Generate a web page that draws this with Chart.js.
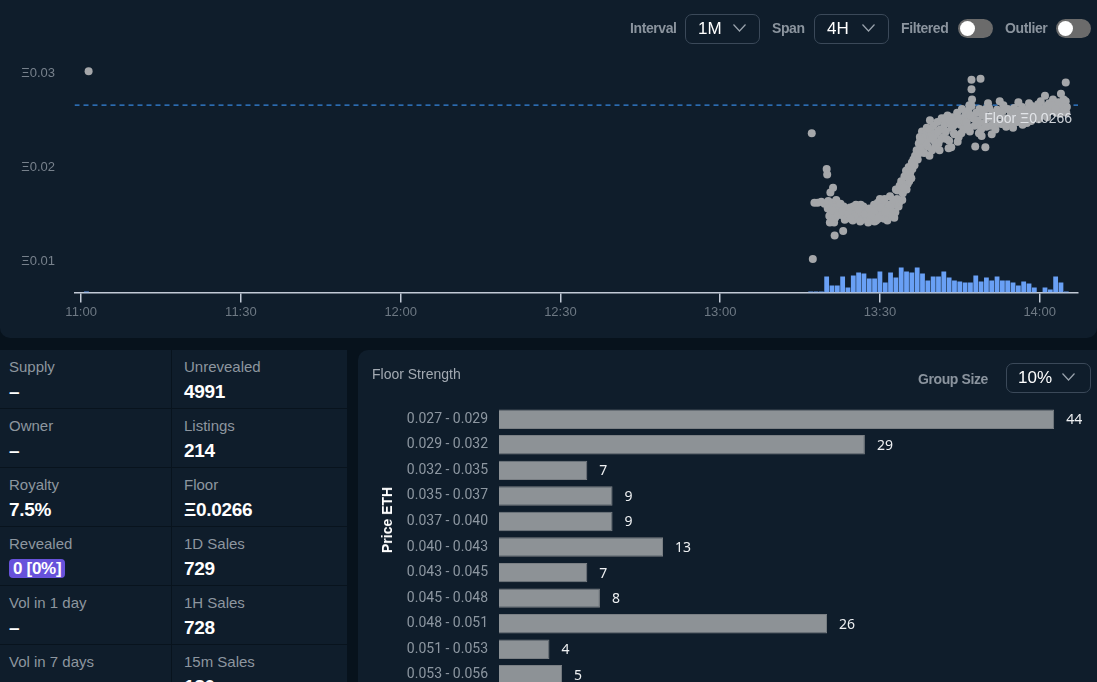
<!DOCTYPE html>
<html lang="en">
<head>
<meta charset="UTF-8">
<title>Sales</title>
<script src="https://cdn.jsdelivr.net/npm/chart.js"></script>
<style>
    body {
        margin: 0;
        width: 1097px;
        height: 682px;
        overflow: hidden;
        position: relative;
        background: #07121c;
        font-family: "Liberation Sans", Arial, sans-serif;
    }
    .panel { position: absolute; background: #0f1d2b; }
    #top { left: 0; top: 0; width: 1097px; height: 338px; border-radius: 0 0 10px 10px; }
    #right { left: 358px; top: 350px; width: 739px; height: 340px; border-top-left-radius: 10px; overflow: hidden; }
    .abs { position: absolute; }
    .ctl { position: absolute; font-weight: bold; font-size: 14px; color: #8b949e; letter-spacing: -0.4px; line-height: 16px; }
    .box { position: absolute; border: 1px solid #3b4959; border-radius: 7px; height: 28px; box-sizing: border-box; }
    .box span { position: absolute; top: 4px; font-size: 17px; color: #fff; line-height: 20px; }
    .box svg { position: absolute; top: 9px; }
    .toggle { position: absolute; width: 35px; height: 19px; border-radius: 10px; background: #6b6b6b; }
    .toggle::after { content: ""; position: absolute; left: 2px; top: 2px; width: 15px; height: 15px; border-radius: 50%; background: #fff; }
    #stats {
        position: absolute; left: 0; top: 350px; width: 347px; height: 340px;
        background: #08131d; display: grid; grid-template-columns: 171px 175px;
        grid-auto-rows: 58px; gap: 1px;
    }
    .cell { background: #0f1d2b; position: relative; }
    .cell .lbl { position: absolute; top: 8px; font-size: 15px; color: #8d969f; line-height: 18px; }
    .cell .val { position: absolute; top: 31px; font-size: 19px; font-weight: bold; color: #fff; line-height: 22px; letter-spacing: -0.3px; }
    .c1 .lbl, .c1 .val { left: 9px; }
    .c2 .lbl, .c2 .val { left: 12px; }
    .badge { background: #6752db; border-radius: 4px; padding: 0 4px; font-size: 17px !important; line-height: 19px !important; top: 32px !important; }
</style>
</head>
<body>
    <div class="panel" id="top"></div>
    <div class="abs" style="left:0;top:0;width:1097px;height:338px;">
        <canvas id="salesChart"></canvas>
    </div>

    <div class="ctl" style="left:630px;top:20px;">Interval</div>
    <div class="box" style="left:685px;top:14px;width:75px;height:30px;">
        <span style="left:12px;">1M</span>
        <svg style="left:47px;" width="13" height="8" viewBox="0 0 13 8"><polyline points="0.5,0.5 6.5,7 12.5,0.5" fill="none" stroke="#9aa3ad" stroke-width="1.2"/></svg>
    </div>
    <div class="ctl" style="left:772px;top:20px;">Span</div>
    <div class="box" style="left:814px;top:14px;width:75px;height:30px;">
        <span style="left:12px;">4H</span>
        <svg style="left:47px;" width="13" height="8" viewBox="0 0 13 8"><polyline points="0.5,0.5 6.5,7 12.5,0.5" fill="none" stroke="#9aa3ad" stroke-width="1.2"/></svg>
    </div>
    <div class="ctl" style="left:901px;top:20px;">Filtered</div>
    <div class="toggle" style="left:958px;top:19px;"></div>
    <div class="ctl" style="left:1005px;top:20px;">Outlier</div>
    <div class="toggle" style="left:1056px;top:19px;"></div>

    <div id="stats">
        <div class="cell c1"><div class="lbl">Supply</div><div class="val">–</div></div>
        <div class="cell c2"><div class="lbl">Unrevealed</div><div class="val">4991</div></div>
        <div class="cell c1"><div class="lbl">Owner</div><div class="val">–</div></div>
        <div class="cell c2"><div class="lbl">Listings</div><div class="val">214</div></div>
        <div class="cell c1"><div class="lbl">Royalty</div><div class="val">7.5%</div></div>
        <div class="cell c2"><div class="lbl">Floor</div><div class="val">Ξ0.0266</div></div>
        <div class="cell c1"><div class="lbl">Revealed</div><div class="val badge">0 [0%]</div></div>
        <div class="cell c2"><div class="lbl">1D Sales</div><div class="val">729</div></div>
        <div class="cell c1"><div class="lbl">Vol in 1 day</div><div class="val">–</div></div>
        <div class="cell c2"><div class="lbl">1H Sales</div><div class="val">728</div></div>
        <div class="cell c1"><div class="lbl">Vol in 7 days</div><div class="val"></div></div>
        <div class="cell c2"><div class="lbl">15m Sales</div><div class="val">180</div></div>
    </div>

    <div class="panel" id="right">
        <div class="abs" style="left:0;top:0;width:739px;height:357px;">
            <canvas id="floorChart"></canvas>
        </div>
        <div class="abs" style="left:14px;top:16px;font-size:14px;color:#a3aab2;line-height:16px;">Floor Strength</div>
        <div class="ctl" style="left:560px;top:21px;">Group Size</div>
        <div class="box" style="left:648px;top:13px;width:85px;height:30px;">
            <span style="left:11px;">10%</span>
            <svg style="left:55px;" width="13" height="8" viewBox="0 0 13 8"><polyline points="0.5,0.5 6.5,7 12.5,0.5" fill="none" stroke="#9aa3ad" stroke-width="1.2"/></svg>
        </div>
    </div>
    <div class="abs" style="left:387px;top:520px;transform:translate(-50%,-50%) rotate(-90deg);font-weight:bold;font-size:14px;color:#fff;white-space:nowrap;">Price ETH</div>

<script>
    // sales: [minutes after 11:00, price in ETH]
    const salesEarly = [
        [1.4, 0.0302], [137.2, 0.0236], [137.4, 0.0102], [140.0, 0.0198], [140.1, 0.0192],
        [141.5, 0.0127], [143.1, 0.0132], [140.6, 0.0141], [141.4, 0.0141], [141.2, 0.0178], [140.7, 0.0173]
    ];
    const salesDip = [
        [137.7, 0.0162], [138.3, 0.0162], [139.0, 0.0163], [139.6, 0.0161], [140.3, 0.0164], [141.0, 0.0162], [141.8, 0.0165], [142.3, 0.0160],
        [140.2, 0.0156], [140.8, 0.0152], [141.3, 0.0157], [141.9, 0.0151], [140.5, 0.0148], [141.6, 0.0146],
        [142.4, 0.0155], [142.8, 0.0149], [143.2, 0.0158], [143.6, 0.0152], [143.9, 0.0146], [142.6, 0.0161], [143.4, 0.0144],
        [144.2, 0.0154], [144.6, 0.0148], [145.0, 0.0158], [145.4, 0.0151], [145.8, 0.0145], [144.9, 0.0143], [145.5, 0.0160],
        [146.2, 0.0150], [146.6, 0.0144], [147.0, 0.0155], [147.4, 0.0147], [147.8, 0.0141], [146.9, 0.0158], [147.6, 0.0152],
        [148.2, 0.0145], [148.6, 0.0152], [149.0, 0.0142], [149.4, 0.0157], [149.8, 0.0148], [148.9, 0.0160], [150.0, 0.0166], [149.3, 0.0143],
        [150.4, 0.0151], [150.8, 0.0145], [151.2, 0.0158], [151.6, 0.0149], [150.6, 0.0163], [151.9, 0.0169], [151.4, 0.0143], [152.0, 0.0155],
        [152.3, 0.0148], [152.6, 0.0160], [152.9, 0.0152], [153.2, 0.0166], [153.5, 0.0158], [153.0, 0.0176], [152.7, 0.0146],
        [141.1, 0.0154], [142.1, 0.0149], [143.0, 0.0153], [144.0, 0.0150], [144.4, 0.0157], [145.2, 0.0147], [146.0, 0.0155],
        [146.4, 0.0160], [147.2, 0.0150], [148.0, 0.0156], [148.4, 0.0149], [149.1, 0.0154], [149.6, 0.0162], [150.2, 0.0157],
        [151.0, 0.0153], [151.8, 0.0160], [150.9, 0.0166], [149.7, 0.0145], [146.3, 0.0142], [144.5, 0.0145]
    ];
    const salesClimb = [
        [152.5, 0.0165], [153.3, 0.0175], [153.7, 0.0180], [154.0, 0.0185], [153.6, 0.0162], [154.3, 0.0172], [154.6, 0.0190],
        [154.9, 0.0196], [155.2, 0.0182], [155.4, 0.0200], [155.7, 0.0194], [156.0, 0.0205], [156.3, 0.0208], [156.1, 0.0198],
        [156.6, 0.0212], [156.9, 0.0218], [157.1, 0.0208], [157.3, 0.0225], [157.5, 0.0232], [157.7, 0.0220], [157.9, 0.0238],
        [158.1, 0.0228], [158.3, 0.0215], [158.5, 0.0235], [158.8, 0.0242], [155.0, 0.0176], [154.2, 0.0165],
        [159.0, 0.0222], [159.2, 0.0230], [159.4, 0.0250], [159.6, 0.0238], [159.8, 0.0218], [160.0, 0.0244], [160.2, 0.0228], [159.3, 0.0212],
        [160.5, 0.0235], [160.8, 0.0248], [161.0, 0.0225], [161.3, 0.0240], [161.6, 0.0252], [161.9, 0.0232], [161.2, 0.0218], [162.1, 0.0245],
        [162.4, 0.0238], [162.7, 0.0255], [163.0, 0.0228], [163.3, 0.0246], [163.6, 0.0253], [163.9, 0.0236], [162.9, 0.0220], [163.5, 0.0242],
        [164.2, 0.0250], [164.5, 0.0258], [164.8, 0.0232], [165.1, 0.0245], [165.4, 0.0262], [165.7, 0.0240], [166.0, 0.0255], [164.6, 0.0227], [163.4, 0.0221],
        [158.0, 0.0232], [158.6, 0.0226], [159.1, 0.0241], [159.9, 0.0232], [160.4, 0.0222], [160.9, 0.0238], [161.5, 0.0230],
        [162.2, 0.0252], [162.5, 0.0230], [163.1, 0.0250], [163.8, 0.0244], [164.0, 0.0235], [164.9, 0.0252], [165.3, 0.0236],
        [165.9, 0.0248], [155.9, 0.0188], [156.5, 0.0202], [157.2, 0.0214], [157.6, 0.0229], [155.5, 0.0185], [154.5, 0.0178]
    ];
    const salesPlateau = [
        [166.3, 0.0248], [166.6, 0.0260], [166.9, 0.0238], [167.2, 0.0265], [167.5, 0.0252], [167.8, 0.0244], [168.1, 0.0258], [167.9, 0.0222],
        [167.2, 0.0293], [167.2, 0.0283], [167.3, 0.0272], [168.9, 0.0294],
        [168.4, 0.0250], [168.7, 0.0262], [169.0, 0.0240], [169.3, 0.0255], [169.6, 0.0247], [169.8, 0.0221], [169.9, 0.0262], [168.6, 0.0236],
        [170.2, 0.0252], [170.5, 0.0263], [170.8, 0.0244], [171.1, 0.0258], [171.4, 0.0250], [171.7, 0.0240], [172.0, 0.0261], [171.0, 0.0235],
        [172.3, 0.0255], [172.5, 0.0270], [172.8, 0.0246], [173.1, 0.0260], [173.4, 0.0252], [173.7, 0.0243], [174.0, 0.0262], [173.2, 0.0266],
        [174.3, 0.0250], [174.6, 0.0258], [174.9, 0.0246], [175.2, 0.0263], [175.5, 0.0254], [175.8, 0.0248], [176.1, 0.0260],
        [176.4, 0.0253], [176.7, 0.0264], [177.0, 0.0250], [177.3, 0.0258], [177.6, 0.0247], [177.9, 0.0262], [178.2, 0.0255],
        [178.5, 0.0265], [178.8, 0.0252], [179.1, 0.0260], [179.4, 0.0256], [179.7, 0.0267], [180.0, 0.0258],
        [180.3, 0.0262], [180.6, 0.0255], [181.0, 0.0276], [181.2, 0.0265], [181.5, 0.0259], [181.8, 0.0268],
        [182.1, 0.0260], [182.5, 0.0272], [182.8, 0.0264], [183.1, 0.0258], [183.5, 0.0269], [183.8, 0.0262], [184.0, 0.0278],
        [184.3, 0.0266], [184.6, 0.0260], [184.9, 0.0290], [184.9, 0.0270], [185.1, 0.0264],
        [166.5, 0.0243], [167.0, 0.0255], [168.3, 0.0246], [169.1, 0.0233], [169.5, 0.0259], [170.0, 0.0243], [170.9, 0.0254],
        [171.9, 0.0247], [172.6, 0.0258], [173.5, 0.0248], [174.5, 0.0254], [175.0, 0.0242], [175.9, 0.0257], [176.8, 0.0245],
        [177.5, 0.0253], [178.4, 0.0249], [179.0, 0.0263], [179.8, 0.0251], [180.8, 0.0259], [181.4, 0.0253], [182.3, 0.0266],
        [183.0, 0.0262], [183.9, 0.0257], [184.5, 0.0272], [185.0, 0.0258], [176.0, 0.0269], [178.0, 0.0268], [180.2, 0.0270],
        [170.3, 0.0268], [166.8, 0.0266]
    ];

    // sales per minute
    const earlyVolume = [['11:01', 1]];
    const volumeFrom = '13:17';
    const volumeCounts = [1, 1, 1, 16, 7, 7, 16, 5, 17, 20, 19, 14, 14, 21, 10, 20, 15, 25, 21, 20, 25, 19, 12, 16, 16,
        21, 15, 12, 11, 10, 10, 17, 11, 15, 12, 16, 12, 12, 10, 7, 11, 9, 5, 0, 5, 3, 16, 10, 1];

    const floorPrice = 0.0266;
    const priceTicks = [0.01, 0.02, 0.03];
    const timeTickLabels = ['11:00', '11:30', '12:00', '12:30', '13:00', '13:30', '14:00'];

    const floorRanges = ['0.027 - 0.029', '0.029 - 0.032', '0.032 - 0.035', '0.035 - 0.037', '0.037 - 0.040', '0.040 - 0.043',
        '0.043 - 0.045', '0.045 - 0.048', '0.048 - 0.051', '0.051 - 0.053', '0.053 - 0.056'];
    const floorCounts = [44, 29, 7, 9, 9, 13, 7, 8, 26, 4, 5];

    function toMin(s) {
        var p = s.split(':').map(Number);
        return (p[0] - 11) * 60 + p[1];
    }
    function fmtMin(v) {
        var h = 11 + Math.floor(v / 60);
        var m = Math.round(v % 60);
        return h + ':' + String(m).padStart(2, '0');
    }

    Chart.defaults.font.family = '"Liberation Sans", Arial, sans-serif';
    Chart.defaults.animation = false;

    var salePoints = salesEarly.concat(salesDip, salesClimb, salesPlateau).map(function (s) {
        return { x: s[0], y: s[1] };
    });
    var volPoints = earlyVolume.map(function (v) { return { x: toMin(v[0]), y: v[1] }; });
    volumeCounts.forEach(function (c, i) {
        volPoints.push({ x: toMin(volumeFrom) + i, y: c });
    });

    var tMin = -1.25, tMax = 187.2;

    const floorLabel = {
        id: 'floorLabel',
        afterDatasetsDraw(chart) {
            var ctx = chart.ctx;
            var y = chart.scales.y.getPixelForValue(floorPrice);
            ctx.save();
            ctx.font = '14px "Liberation Sans", Arial, sans-serif';
            ctx.fillStyle = 'rgba(236,239,243,0.85)';
            ctx.textAlign = 'right';
            ctx.textBaseline = 'middle';
            ctx.fillText('Floor Ξ' + floorPrice.toFixed(4), chart.chartArea.right - 6, y + 14);
            ctx.restore();
        }
    };

    new Chart(document.getElementById('salesChart'), {
        type: 'scatter',
        data: {
            datasets: [{
                label: 'Sales',
                data: salePoints,
                backgroundColor: '#a5a7aa',
                borderWidth: 0,
                pointRadius: 4,
                order: 0
            }, {
                type: 'line',
                label: 'Floor',
                data: [{ x: tMin, y: floorPrice }, { x: tMax, y: floorPrice }],
                borderColor: '#3686de',
                borderWidth: 1.4,
                borderDash: [5, 4],
                pointRadius: 0,
                order: 1
            }, {
                type: 'bar',
                label: 'Volume',
                data: volPoints,
                yAxisID: 'vol',
                backgroundColor: '#69a0f5',
                borderWidth: 0,
                barPercentage: 0.9,
                categoryPercentage: 1,
                order: 2
            }]
        },
        options: {
            responsive: true,
            maintainAspectRatio: false,
            layout: { padding: { top: 55, left: 21, right: 19, bottom: 16 } },
            plugins: { legend: { display: false }, tooltip: { enabled: false } },
            scales: {
                x: {
                    type: 'linear',
                    min: tMin,
                    max: tMax,
                    offset: false,
                    afterBuildTicks: function (scale) {
                        scale.ticks = timeTickLabels.map(function (l) { return { value: toMin(l) }; });
                    },
                    ticks: {
                        color: '#6d7883',
                        font: { size: 13 },
                        padding: 2,
                        maxRotation: 0,
                        callback: function (v) { return fmtMin(v); }
                    },
                    grid: { offset: false, drawOnChartArea: false, drawTicks: true, tickLength: 10, color: '#c2cad6', lineWidth: 1.5 },
                    border: { display: true, color: '#c2cad6', width: 1.5 }
                },
                y: {
                    min: 0.00665,
                    max: 0.03194,
                    afterBuildTicks: function (scale) {
                        scale.ticks = priceTicks.map(function (v) { return { value: v }; });
                    },
                    afterFit: function (scale) { scale.width = 53.5; },
                    ticks: {
                        color: '#77818c',
                        font: { size: 13 },
                        padding: 19.5,
                        callback: function (v) { return 'Ξ' + v.toFixed(2); }
                    },
                    grid: { display: false, drawTicks: false },
                    border: { display: false }
                },
                vol: {
                    display: false,
                    min: 0,
                    max: 239
                }
            }
        },
        plugins: [floorLabel]
    });

    const barValues = {
        id: 'barValues',
        afterDatasetsDraw(chart) {
            var ctx = chart.ctx;
            var meta = chart.getDatasetMeta(0);
            ctx.save();
            ctx.font = '14px "Noto Sans", sans-serif';
            ctx.fillStyle = '#eef0f2';
            ctx.textAlign = 'left';
            ctx.textBaseline = 'middle';
            meta.data.forEach(function (bar, i) {
                ctx.fillText(String(floorCounts[i]), bar.x + 12, bar.y + 1);
            });
            ctx.restore();
        }
    };

    new Chart(document.getElementById('floorChart'), {
        type: 'bar',
        data: {
            labels: floorRanges,
            datasets: [{
                label: 'Floor Strength',
                data: floorCounts,
                backgroundColor: '#8d9296',
                borderColor: '#7a7f84',
                borderWidth: 1,
                barPercentage: 0.76,
                categoryPercentage: 1
            }]
        },
        options: {
            indexAxis: 'y',
            responsive: true,
            maintainAspectRatio: false,
            layout: { padding: { top: 56.5, left: 0, right: 5, bottom: 4.25 } },
            plugins: { legend: { display: false }, tooltip: { enabled: false } },
            scales: {
                x: { display: false, min: 0, max: 47 },
                y: {
                    afterFit: function (scale) { scale.width = 141; },
                    ticks: { color: '#8d97a1', font: { family: 'Roboto', size: 14 }, padding: 11 },
                    grid: { display: false, drawTicks: false },
                    border: { display: false }
                }
            }
        },
        plugins: [barValues]
    });
</script>
</body>
</html>
